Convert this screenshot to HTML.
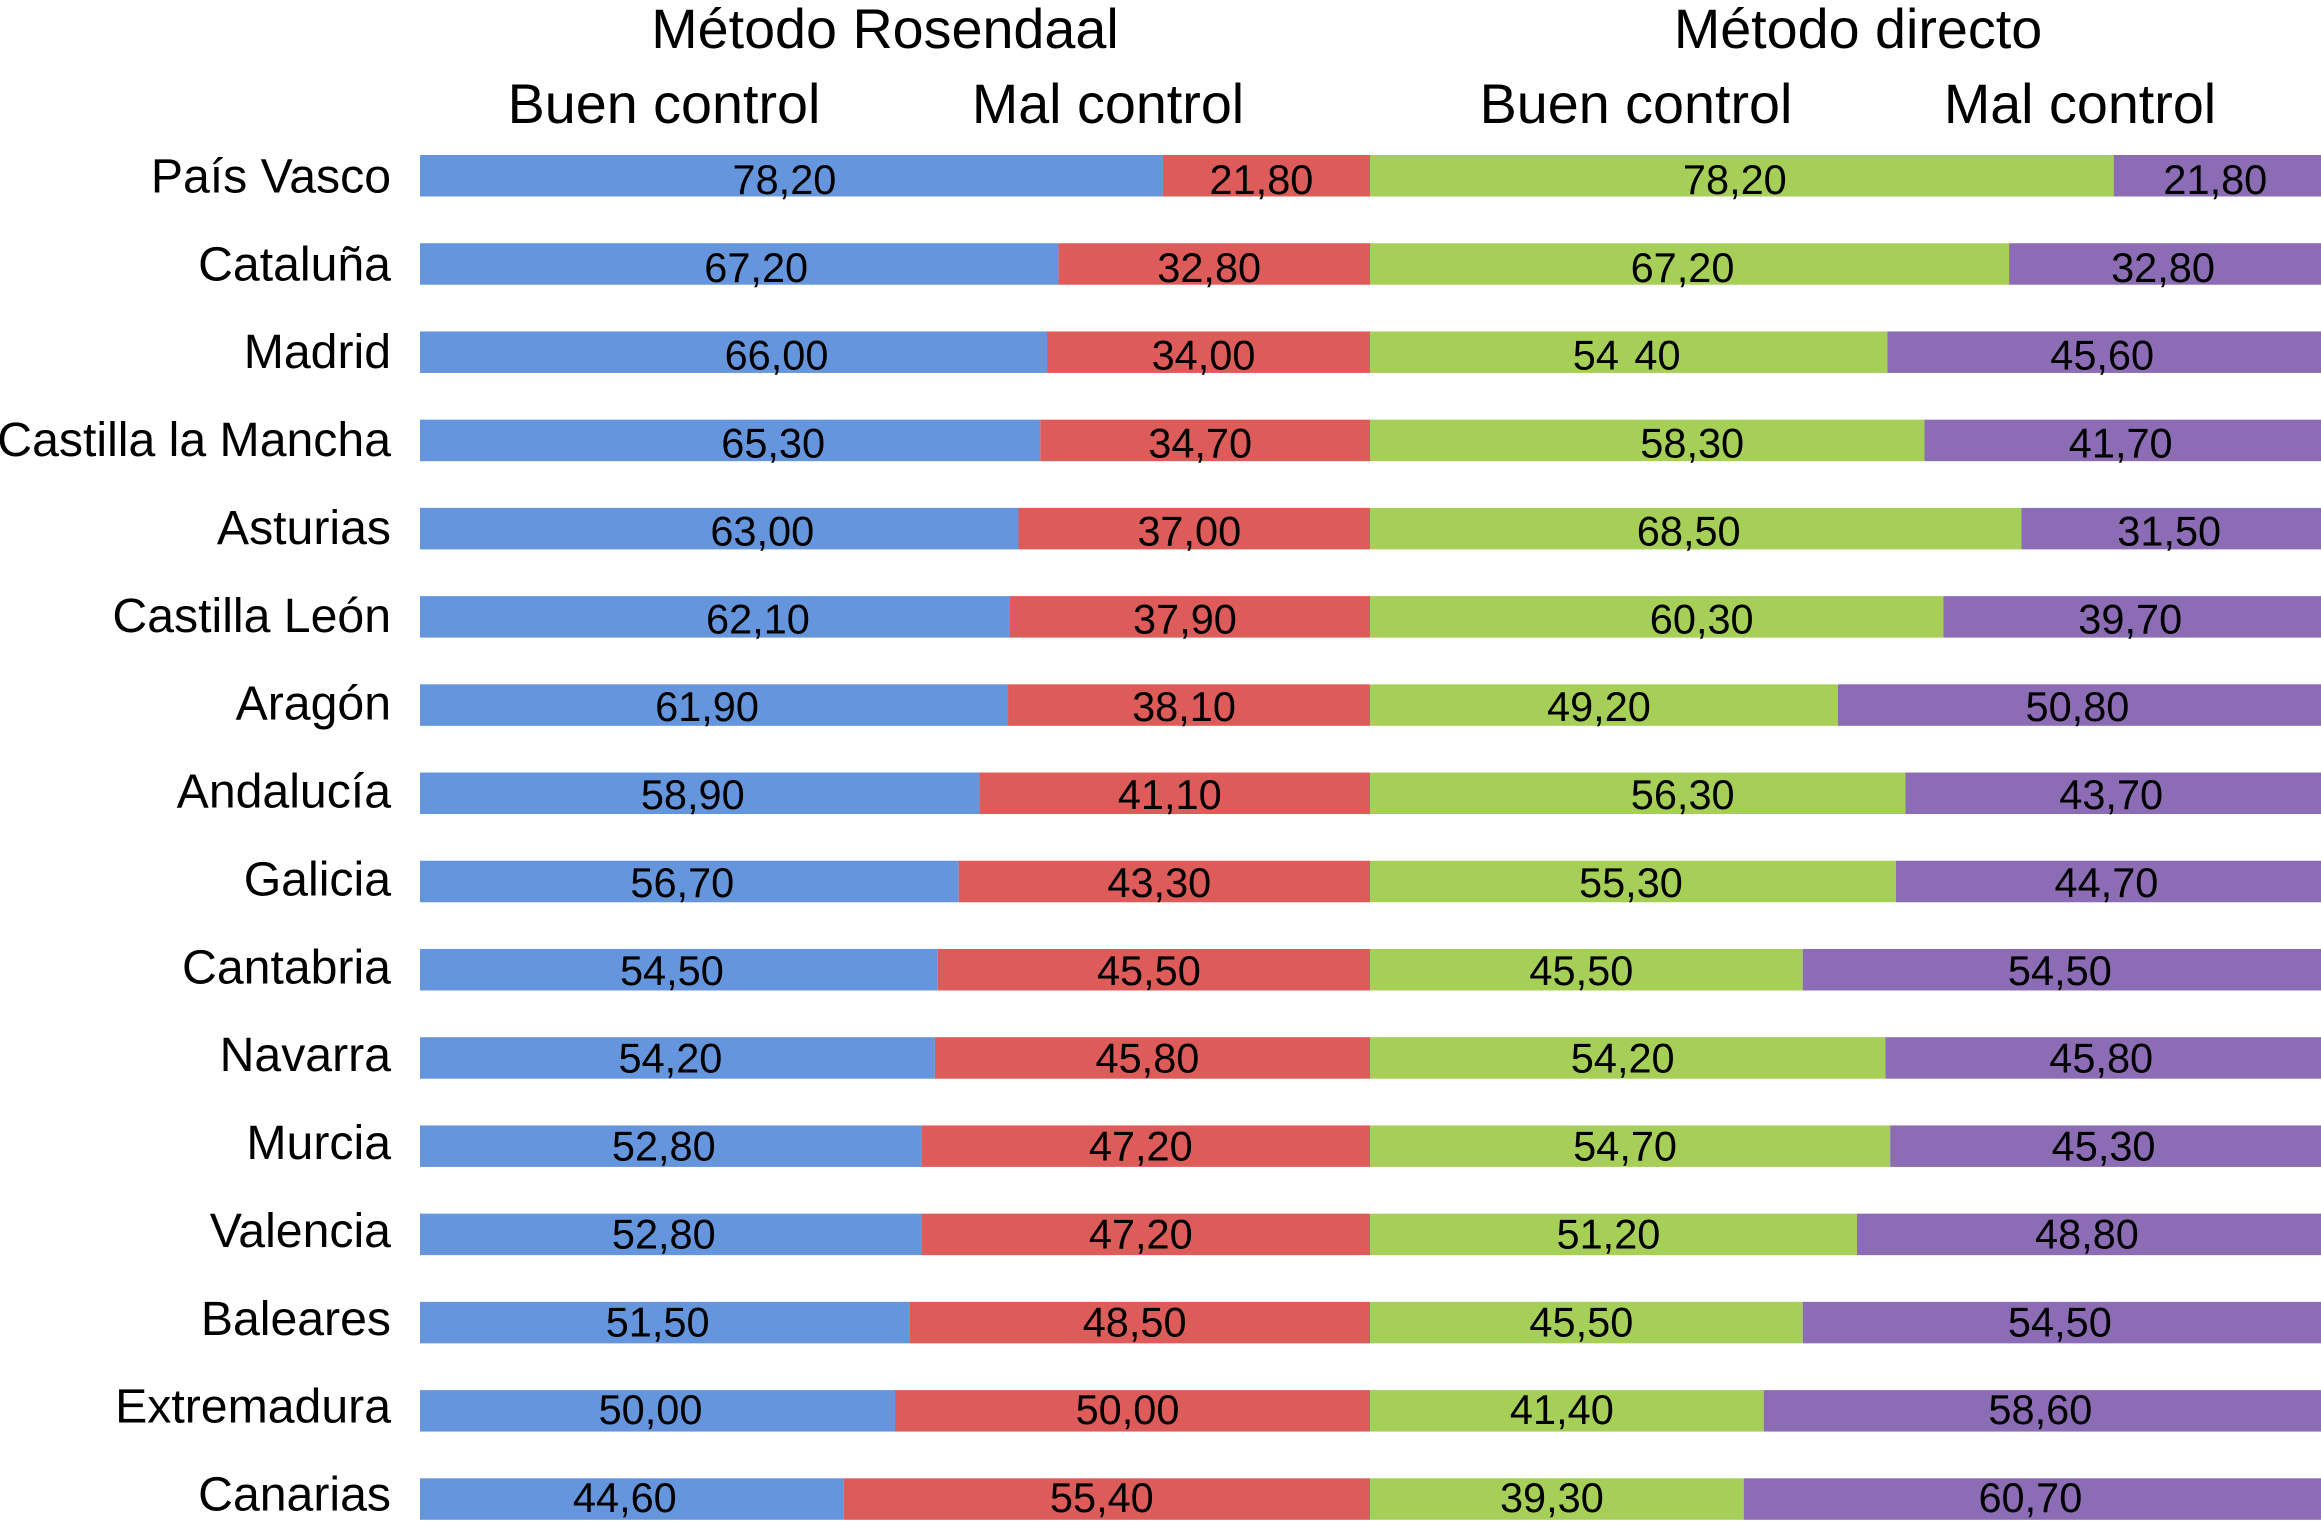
<!DOCTYPE html>
<html lang="es">
<head>
<meta charset="utf-8">
<title>Método Rosendaal y método directo por comunidad</title>
<style>
html,body{margin:0;padding:0;background:#fff;}
svg{display:block;}
text{font-family:"Liberation Sans",Arial,sans-serif;fill:#000;}
</style>
</head>
<body>
<svg id="chart" xmlns="http://www.w3.org/2000/svg" width="2321" height="1522" viewBox="0 0 2321 1522">
  <rect x="0" y="0" width="2321" height="1522" fill="#ffffff"/>
  <text x="885" y="48" font-size="55.7" text-anchor="middle">Método Rosendaal</text>
  <text x="1858" y="48" font-size="55.7" text-anchor="middle">Método directo</text>
  <text x="664" y="123" font-size="55.7" text-anchor="middle">Buen control</text>
  <text x="1108" y="123" font-size="55.7" text-anchor="middle">Mal control</text>
  <text x="1636" y="123" font-size="55.7" text-anchor="middle">Buen control</text>
  <text x="2080" y="123" font-size="55.7" text-anchor="middle">Mal control</text>
  <g id="bars"></g>
  <g id="category-labels"></g>
  <g id="value-labels"></g>
</svg>
<script>
const categories = ["País Vasco","Cataluña","Madrid","Castilla la Mancha","Asturias","Castilla León","Aragón","Andalucía","Galicia","Cantabria","Navarra","Murcia","Valencia","Baleares","Extremadura","Canarias"];

const rosendaalGood = [78.2,67.2,66.0,65.3,63.0,62.1,61.9,58.9,56.7,54.5,54.2,52.8,52.8,51.5,50.0,44.6];
const rosendaalPoor = [21.8,32.8,34.0,34.7,37.0,37.9,38.1,41.1,43.3,45.5,45.8,47.2,47.2,48.5,50.0,55.4];
const directGood = [78.2,67.2,54.4,58.3,68.5,60.3,49.2,56.3,55.3,45.5,54.2,54.7,51.2,45.5,41.4,39.3];
const directPoor = [21.8,32.8,45.6,41.7,31.5,39.7,50.8,43.7,44.7,54.5,45.8,45.3,48.8,54.5,58.6,60.7];

const rosendaalGoodLabels = ["78,20","67,20","66,00","65,30","63,00","62,10","61,90","58,90","56,70","54,50","54,20","52,80","52,80","51,50","50,00","44,60"];
const rosendaalPoorLabels = ["21,80","32,80","34,00","34,70","37,00","37,90","38,10","41,10","43,30","45,50","45,80","47,20","47,20","48,50","50,00","55,40"];
const directGoodLabels = ["78,20","67,20","54 40","58,30","68,50","60,30","49,20","56,30","55,30","45,50","54,20","54,70","51,20","45,50","41,40","39,30"];
const directPoorLabels = ["21,80","32,80","45,60","41,70","31,50","39,70","50,80","43,70","44,70","54,50","45,80","45,30","48,80","54,50","58,60","60,70"];

// Layout: the original's labels were hand-placed, so a few sit off-centre in their segment.
const BLUE_OFFSET = -7, RED_OFFSET = -5, GREEN_OFFSET = -5, PURPLE_OFFSET = -2;
const rosendaalGoodNudge = [0,24,50,50,50,50,0,0,0,0,0,0,0,0,0,0];
const directGoodNudge = [-2,-2,3,50,-2,50,0,50,3,0,0,0,0,0,0,0];

const BAR_TOP = 155, BAR_PITCH = 88.22, BAR_HEIGHT = 41.5;
const CATEGORY_BASELINE = 192.5, VALUE_BASELINE = 194, TEXT_PITCH = 87.87;

const xRosendaal = v => 420 + v * 9.5;
const xDirect = v => 1370 + v * 9.51;
const yBar = i => BAR_TOP + i * BAR_PITCH;

const NS = "http://www.w3.org/2000/svg";
const barsGroup = document.getElementById("bars");
const categoryGroup = document.getElementById("category-labels");
const valueGroup = document.getElementById("value-labels");

function slug(s){
  return s.toLowerCase().normalize("NFD").replace(/[\u0300-\u036f]/g,"").replace(/\s+/g,"-");
}

function drawSegment(prefix, scale, start, value, color, text, offset, i){
  const x0 = scale(start), x1 = scale(start + value);
  const r = document.createElementNS(NS,"rect");
  r.setAttribute("x", x0);
  r.setAttribute("y", yBar(i));
  r.setAttribute("width", x1 - x0);
  r.setAttribute("height", BAR_HEIGHT);
  r.setAttribute("fill", color);
  
  
  barsGroup.appendChild(r);

  const t = document.createElementNS(NS,"text");
  t.setAttribute("x", (x0 + x1) / 2 + offset);
  t.setAttribute("y", VALUE_BASELINE + i * TEXT_PITCH);
  t.setAttribute("font-size", "41.5");
  t.setAttribute("word-spacing", "4");
  t.setAttribute("text-anchor", "middle");
  t.textContent = text;
  
  
  valueGroup.appendChild(t);
}

categories.forEach(function(name, i){
  drawSegment("rosendaal-good", xRosendaal, 0, rosendaalGood[i], "#6595dc", rosendaalGoodLabels[i], BLUE_OFFSET + rosendaalGoodNudge[i], i);
  drawSegment("rosendaal-poor", xRosendaal, rosendaalGood[i], rosendaalPoor[i], "#dd5c5a", rosendaalPoorLabels[i], RED_OFFSET, i);
  drawSegment("direct-good", xDirect, 0, directGood[i], "#a6cf58", directGoodLabels[i], GREEN_OFFSET + directGoodNudge[i], i);
  drawSegment("direct-poor", xDirect, directGood[i], directPoor[i], "#8c6cb5", directPoorLabels[i], PURPLE_OFFSET, i);

  const c = document.createElementNS(NS,"text");
  c.setAttribute("x", 391);
  c.setAttribute("y", CATEGORY_BASELINE + i * TEXT_PITCH);
  c.setAttribute("font-size", "48.2");
  c.setAttribute("text-anchor", "end");
  c.textContent = name;
  
  
  categoryGroup.appendChild(c);
});
</script>
</body>
</html>
